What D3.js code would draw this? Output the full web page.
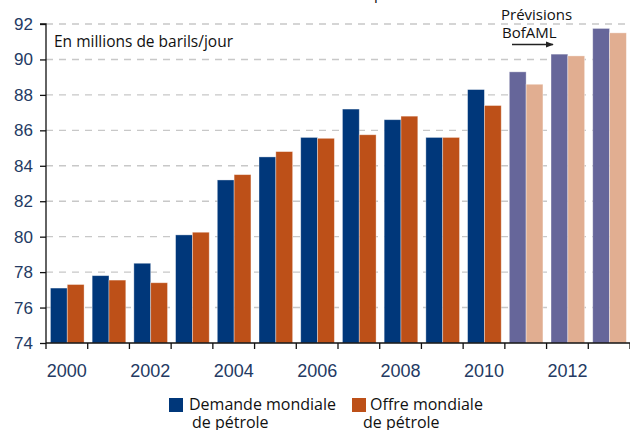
<!DOCTYPE html>
<html>
<head>
<meta charset="utf-8">
<script src="https://cdn.jsdelivr.net/npm/d3@7"></script>
<style>
	body { margin: 0; background: #fff; }
	svg { display: block; }
	.axis-y text, .axis-x text { font-family: "Liberation Sans", Arial, sans-serif; fill: #243a63; }
	.note { font-family: "Open Sans", sans-serif; fill: #111; }
</style>
</head>
<body>
<svg id="chart" width="630" height="430"></svg>
<script>
"use strict";

// Data (millions of barrels per day)
var years = [2000, 2001, 2002, 2003, 2004, 2005, 2006, 2007, 2008, 2009, 2010, 2011, 2012, 2013];
var demand = [77.1, 77.8, 78.5, 80.1, 83.2, 84.5, 85.6, 87.2, 86.6, 85.6, 88.3, 89.3, 90.3, 91.75];
var supply = [77.3, 77.55, 77.4, 80.25, 83.5, 84.8, 85.55, 85.75, 86.8, 85.6, 87.4, 88.6, 90.2, 91.5];
var firstForecast = 2011;
var yTicks = [74, 76, 78, 80, 82, 84, 86, 88, 90, 92];
var xLabels = [2000, 2002, 2004, 2006, 2008, 2010, 2012];
var seriesNames = ["Demande mondiale", "Offre mondiale"];

var colours = {
	demand: "#00377a", supply: "#bd5018",
	demandForecast: "#66669a", supplyForecast: "#e1ae91"
};

var svg = d3.select("#chart");
var plot = {left: 46, right: 630, top: 24, bottom: 343};

var x = d3.scaleBand()
	.domain(years)
	.range([plot.left, plot.right]);
var inner = d3.scaleBand()
	.domain(["demand", "supply"])
	.range([0, x.bandwidth()])
	.paddingOuter(0.24)
	.align(0.55);
var y = d3.scaleLinear()
	.domain([74, 92])
	.range([plot.bottom, plot.top]);

// Title line, cut off by the top edge in the reference (only a sliver shows)
svg.append("text")
	.attr("class", "note")
	.attr("x", 15)
	.attr("y", -1)
	.style("font-size", "15px")
	.text("Évolution de la demande et de l'offre mondiales de pétrole");

// Dashed grid lines
svg.append("g")
	.selectAll("line")
	.data(yTicks.filter(function(d) { return d > 74; }))
	.enter()
	.append("line")
	.attr("x1", plot.left)
	.attr("x2", plot.right)
	.attr("y1", function(d) { return y(d); })
	.attr("y2", function(d) { return y(d); })
	.attr("stroke", "#c8c8c8")
	.attr("stroke-width", 1.4)
	.attr("stroke-dasharray", "7,6");

// Bars
var rows = years.map(function(yr, i) {
	return {year: yr, demand: demand[i], supply: supply[i]};
});
var group = svg.append("g")
	.selectAll("g")
	.data(rows)
	.enter()
	.append("g")
	.attr("transform", function(d) { return "translate(" + x(d.year) + ",0)"; });

group.selectAll("rect")
	.data(function(d) {
		var fc = d.year >= firstForecast;
		return [
			{key: "demand", value: d.demand, colour: fc ? colours.demandForecast : colours.demand},
			{key: "supply", value: d.supply, colour: fc ? colours.supplyForecast : colours.supply}
		];
	})
	.enter()
	.append("rect")
	.attr("x", function(d) { return inner(d.key); })
	.attr("width", inner.bandwidth())
	.attr("y", function(d) { return y(d.value); })
	.attr("height", function(d) { return plot.bottom - y(d.value); })
	.attr("fill", function(d) { return d.colour; })
	.attr("stroke", "rgba(255,255,255,0.45)")
	.attr("stroke-width", 0.8);

// Y axis
var yAxis = svg.append("g")
	.attr("class", "axis-y")
	.attr("transform", "translate(" + plot.left + ",0)")
	.call(d3.axisLeft(y).tickValues(yTicks).tickSize(6).tickPadding(7).tickFormat(d3.format("d")));
yAxis.select(".domain").attr("stroke", "#111").attr("stroke-width", 1.3).attr("d", "M-6," + plot.top + "H0V" + plot.bottom);
yAxis.selectAll(".tick line").attr("stroke", "#111").attr("stroke-width", 1.3);
yAxis.selectAll("text").style("font-size", "17px");

// X axis: labels on even years, ticks on category boundaries
var xAxis = svg.append("g")
	.attr("class", "axis-x")
	.attr("transform", "translate(0," + plot.bottom + ")")
	.call(d3.axisBottom(x).tickValues(xLabels).tickSize(0).tickPadding(21));
xAxis.select(".domain").attr("stroke", "#111").attr("stroke-width", 1.3).attr("d", "M" + plot.left + ",0H" + plot.right);
xAxis.selectAll("text").style("font-size", "18px");

xAxis.selectAll("line.bound")
	.data(years.map(function(d) { return x(d); }).concat([plot.right]))
	.enter()
	.append("line")
	.attr("class", "bound")
	.attr("x1", function(d) { return d; })
	.attr("x2", function(d) { return d; })
	.attr("y1", 0)
	.attr("y2", 6)
	.attr("stroke", "#111")
	.attr("stroke-width", 1.3);

// Notes
svg.append("text")
	.attr("class", "note")
	.attr("x", 54)
	.attr("y", 47)
	.style("font-size", "15.5px")
	.text("En millions de barils/jour");

svg.append("text")
	.attr("class", "note")
	.attr("x", 501)
	.attr("y", 20)
	.style("font-size", "15px")
	.text("Prévisions");
svg.append("text")
	.attr("class", "note")
	.attr("x", 502)
	.attr("y", 38)
	.style("font-size", "15px")
	.text("BofAML");

svg.append("defs").append("marker")
	.attr("id", "arrow")
	.attr("viewBox", "0 0 10 10")
	.attr("refX", 9)
	.attr("refY", 5)
	.attr("markerWidth", 6)
	.attr("markerHeight", 6)
	.attr("orient", "auto")
	.append("path")
	.attr("d", "M0,1 L10,5 L0,9Z")
	.attr("fill", "#222");
svg.append("line")
	.attr("x1", 512)
	.attr("x2", 553)
	.attr("y1", 44.5)
	.attr("y2", 44.5)
	.attr("stroke", "#222")
	.attr("stroke-width", 1.3)
	.attr("marker-end", "url(#arrow)");

// Legend
var legend = svg.append("g")
	.selectAll("g")
	.data(seriesNames)
	.enter()
	.append("g")
	.attr("transform", function(d, i) { return "translate(" + [169, 352][i] + ",398)"; });
legend.append("rect")
	.attr("width", 14)
	.attr("height", 14)
	.attr("fill", function(d, i) { return [colours.demand, colours.supply][i]; });
var legendText = legend.append("text")
	.attr("class", "note")
	.style("font-size", "16px");
legendText.append("tspan")
	.attr("x", function(d, i) { return [20, 18][i]; })
	.attr("y", 12)
	.text(function(d) { return d; });
legendText.append("tspan")
	.attr("x", function(d, i) { return [23, 11][i]; })
	.attr("y", 30)
	.text("de pétrole");
</script>
</body>
</html>
